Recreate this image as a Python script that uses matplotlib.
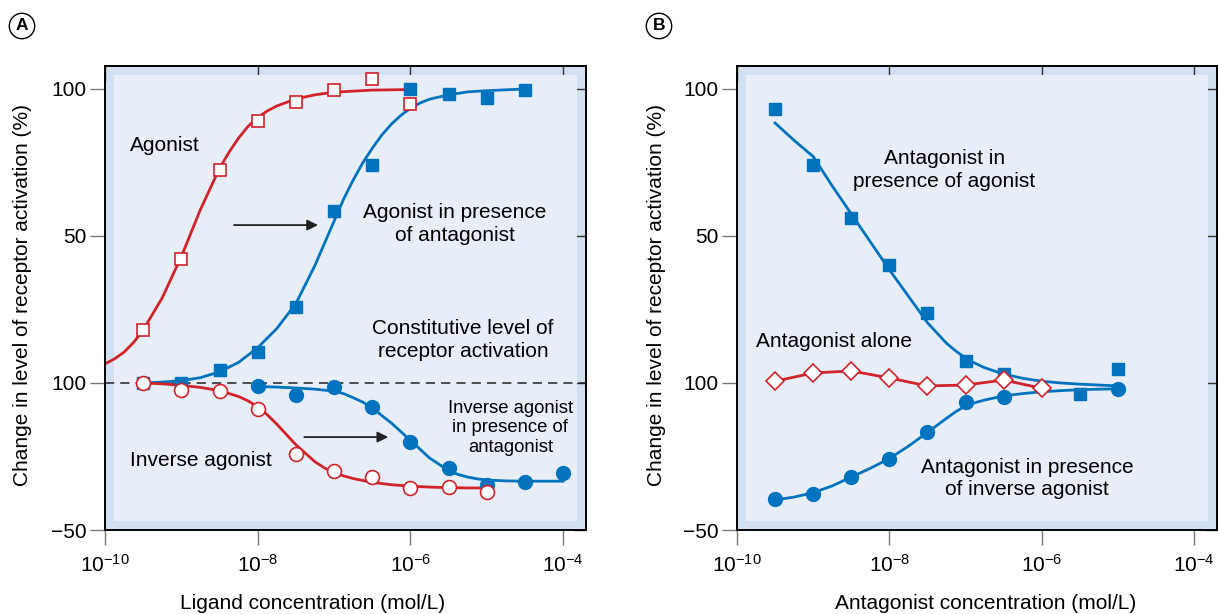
import numpy as np
import matplotlib
matplotlib.use("Agg")
import matplotlib.pyplot as plt
from matplotlib.patches import Rectangle
from matplotlib.ticker import NullLocator, FixedLocator

plt.rcParams['font.family'] = ['Liberation Sans', 'DejaVu Sans']

# ---- panel A data (log10 of ligand concentration, % activation) ----
ag_x = [-9.5, -9, -8.5, -8, -7.5, -7, -6.5, -6]
ag_y = [18, 42, 72.5, 89, 95.5, 99.5, 103.5, 95]
ag_fit_x = [-10, -9.875, -9.75, -9.625, -9.5, -9.25, -9, -8.75, -8.5, -8.375, -8.25, -8.125,
            -8, -7.875, -7.75, -7.5, -7.25, -7, -6.5, -6]
ag_fit_y = [6.5, 8.2, 10.5, 13.8, 18, 29, 43, 59, 73, 78.5, 83.3, 87.3,
            90.3, 92.5, 94.2, 96.6, 98, 98.9, 99.6, 99.8]

agant_x = [-9.5, -9, -8.5, -8, -7.5, -7, -6.5, -6, -5.5, -5, -4.5]
agant_y = [0, 0, 4.5, 10.5, 26, 58.5, 74, 100, 98.3, 97, 99.6]
agant_fit_x = [-9.5, -9.25, -9, -8.75, -8.5, -8.25, -8, -7.75, -7.5, -7.25, -7, -6.875, -6.75,
               -6.625, -6.5, -6.375, -6.25, -6.125, -6, -5.875, -5.75, -5.5, -5.25, -5,
               -4.75, -4.5]
agant_fit_y = [0, 0.3, 0.8, 1.8, 3.8, 7, 12, 18.5, 27, 40, 55, 62.5, 69,
               74.8, 79.8, 84.3, 88, 91, 93.4, 95.2, 96.5, 98, 99, 99.4,
               99.7, 100]

inv_x = [-9.5, -9, -8.5, -8, -7.5, -7, -6.5, -6, -5.5, -5]
inv_y = [0, -2.4, -2.6, -8.8, -24, -30, -32, -35.8, -35.5, -37.2]
inv_fit_x = [-9.5, -9.25, -9, -8.75, -8.5, -8.25, -8.125, -8, -7.875, -7.75, -7.5, -7.25,
             -7.125, -7, -6.875, -6.75, -6.5, -6.25, -6, -5.75, -5.5, -5.25, -5]
inv_fit_y = [0, -0.3, -0.8, -1.5, -2.6, -4.6, -6.1, -8.1, -10.8, -14, -21, -26.8,
             -28.9, -30.5, -31.6, -32.5, -33.8, -34.6, -35.1, -35.4, -35.6, -35.7, -35.7]

invant_x = [-8, -7.5, -7, -6.5, -6, -5.5, -5, -4.5, -4]
invant_y = [-1, -4.1, -1.4, -8.2, -20.1, -29, -34.7, -33.7, -30.6]
invant_fit_x = [-8, -7.75, -7.5, -7.25, -7, -6.875, -6.75, -6.625, -6.5, -6.25, -6, -5.75,
                -5.5, -5.375, -5.25, -5.125, -5, -4.75, -4.5, -4.25, -4]
invant_fit_y = [-1.2, -1.4, -1.7, -2.1, -2.8, -3.6, -5, -6.5, -8.5, -13.6, -19.5, -25.5,
                -29.8, -31.1, -32, -32.6, -33, -33.3, -33.4, -33.4, -33.4]

# ---- panel B data (log10 of antagonist concentration) ----
b_ag_x = [-9.5, -9, -8.5, -8, -7.5, -7, -6.5, -5.5, -5]
b_ag_y = [93.2, 74.1, 56.1, 40.1, 23.8, 7.5, 3.1, -3.7, 4.8]
b_ag_fit_x = [-9.5, -9.25, -9, -8.75, -8.5, -8.25, -8, -7.75, -7.5, -7.25, -7.125, -7,
              -6.875, -6.75, -6.5, -6.25, -6, -5.75, -5.5, -5.25, -5]
b_ag_fit_y = [88.4, 82.5, 77, 67, 57.5, 48, 38.5, 29.5, 20.5, 13.5, 10.8, 8.5,
              6.7, 5.2, 3, 1.6, 0.6, 0, -0.4, -0.7, -1.0]

b_alone_x = [-9.5, -9, -8.5, -8, -7.5, -7, -6.5, -6]
b_alone_y = [0.6, 3.4, 4.1, 1.7, -1.0, -0.7, 1.0, -1.8]

b_inv_x = [-9.5, -9, -8.5, -8, -7.5, -7, -6.5, -5]
b_inv_y = [-39.5, -37.8, -32, -25.9, -16.7, -6.5, -4.8, -2.0]
b_inv_fit_x = [-9.5, -9.25, -9, -8.75, -8.5, -8.25, -8, -7.75, -7.5, -7.25, -7.125, -7,
               -6.875, -6.75, -6.5, -6.25, -6, -5.75, -5.5, -5.25, -5]
b_inv_fit_y = [-39.8, -38.8, -37.3, -35, -32, -29, -25.7, -21.5, -16.8, -12, -9.7, -7.8,
               -6.7, -5.8, -4.4, -3.6, -3.0, -2.6, -2.3, -2.1, -2.0]

yticks = [-50, 0, 50, 100]
ytick_labels = ['\u221250', '100', '50', '100']
xticks = [1e-10, 1e-8, 1e-6, 1e-4]
xtick_labels = [r'$\mathregular{10^{-10}}$', r'$\mathregular{10^{-8}}$',
                r'$\mathregular{10^{-6}}$', r'$\mathregular{10^{-4}}$']

RED = '#d2232a'
BLUE = '#0073be'
OUTER = '#d3e0f2'
INNER = '#e7eef8'
FS = 15


def c(v):
    return 10 ** np.asarray(v, dtype=float)


def setup(ax, xlabel, xlab_pos, ylab_pos):
    ax.set_xscale('log')
    ax.set_xlim(1e-10, 10 ** -3.7)
    ax.set_ylim(-50, 107.8)
    ax.set_facecolor(OUTER)
    ax.add_patch(Rectangle((9 / 481, 9 / 464), 1 - 18 / 481, 1 - 18 / 464,
                           transform=ax.transAxes, fc=INNER, ec='none', zorder=0.5))
    ax.set_xticks(xticks)
    ax.set_xticklabels(xtick_labels)
    ax.xaxis.set_minor_locator(NullLocator())
    ax.set_yticks(yticks)
    ax.set_yticklabels(ytick_labels)
    ax.tick_params(direction='out', length=11, width=1, color='#777777',
                   labelsize=FS, pad=2)
    ax.tick_params(axis='x', pad=6)
    for s in ax.spines.values():
        s.set_linewidth(1.4)
        s.set_color('black')
    ax.spines['top'].set_visible(False)
    ax.spines['right'].set_visible(False)
    # inward ticks on top and right
    top = ax.secondary_xaxis('top')
    top.xaxis.set_major_locator(FixedLocator(xticks))
    top.xaxis.set_minor_locator(NullLocator())
    top.tick_params(direction='in', length=11, width=1, color='#333333', labeltop=False)
    top.spines['top'].set_linewidth(1.4)
    right = ax.secondary_yaxis('right')
    right.yaxis.set_major_locator(FixedLocator(yticks))
    right.tick_params(direction='in', length=9, width=1, color='#333333', labelright=False)
    right.spines['right'].set_linewidth(1.4)
    ax.set_xlabel(xlabel, fontsize=FS)
    ax.xaxis.set_label_coords(xlab_pos, -0.137)
    ax.set_ylabel('Change in level of receptor activation (%)', fontsize=FS)
    ax.yaxis.set_label_coords(ylab_pos, 0.506)


fig = plt.figure(figsize=(12.18, 6.14), dpi=100)
axA = fig.add_axes([105 / 1218, 1 - 530 / 614, 481 / 1218, 464 / 614])
axB = fig.add_axes([737 / 1218, 1 - 530 / 614, 480 / 1218, 464 / 614])

setup(axA, 'Ligand concentration (mol/L)', 0.432, -0.152)
setup(axB, 'Antagonist concentration (mol/L)', 0.517, -0.148)

# ---- panel A ----
axA.axhline(0, color='#222222', lw=1.1, ls=(0, (6, 4)), zorder=1)
axA.plot(c(ag_fit_x), ag_fit_y, color=RED, lw=2, zorder=2)
axA.plot(c(agant_fit_x), agant_fit_y, color=BLUE, lw=2, zorder=2)
axA.plot(c(inv_fit_x), inv_fit_y, color=RED, lw=2, zorder=2)
axA.plot(c(invant_fit_x), invant_fit_y, color=BLUE, lw=2, zorder=2)

axA.plot(c(ag_x), ag_y, 's', ms=8.5, mfc='white', mec=RED, mew=1.2, zorder=3)
axA.plot(c(agant_x), agant_y, 's', ms=8.5, mfc=BLUE, mec=BLUE, zorder=3)
axA.plot(c(invant_x), invant_y, 'o', ms=10, mfc=BLUE, mec=BLUE, zorder=3)
axA.plot(c(inv_x), inv_y, 'o', ms=10, mfc='white', mec=RED, mew=1.2, zorder=4)

axA.text(10 ** -9.67, 80.6, 'Agonist', fontsize=FS, ha='left', va='center')
axA.text(10 ** -5.42, 54, 'Agonist in presence\nof antagonist', fontsize=FS,
         ha='center', va='center', linespacing=1.25)
axA.text(10 ** -5.31, 14.6, 'Constitutive level of\nreceptor activation', fontsize=FS,
         ha='center', va='center', linespacing=1.25)
axA.text(10 ** -4.69, -15.3, 'Inverse agonist\nin presence of\nantagonist', fontsize=13.3,
         ha='center', va='center', linespacing=1.2)
axA.text(10 ** -9.67, -26.2, 'Inverse agonist', fontsize=FS, ha='left', va='center')

arrow = dict(arrowstyle='-|>', color='#222222', lw=1.3, mutation_scale=16, shrinkA=0, shrinkB=0)
axA.annotate('', xy=(10 ** -7.21, 53.7), xytext=(10 ** -8.31, 53.7), arrowprops=arrow)
axA.annotate('', xy=(10 ** -6.29, -18.4), xytext=(10 ** -7.39, -18.4), arrowprops=arrow)

# ---- panel B ----
axB.plot(c(b_ag_fit_x), b_ag_fit_y, color=BLUE, lw=2, zorder=2)
axB.plot(c(b_inv_fit_x), b_inv_fit_y, color=BLUE, lw=2, zorder=2)
axB.plot(c(b_alone_x), b_alone_y, color=RED, lw=2, zorder=2)

axB.plot(c(b_ag_x), b_ag_y, 's', ms=8.5, mfc=BLUE, mec=BLUE, zorder=3)
axB.plot(c(b_inv_x), b_inv_y, 'o', ms=10, mfc=BLUE, mec=BLUE, zorder=3)
axB.plot(c(b_alone_x), b_alone_y, 'D', ms=9, mfc='white', mec=RED, mew=1.2, zorder=4)

axB.text(10 ** -7.28, 72.4, 'Antagonist in\npresence of agonist', fontsize=FS,
         ha='center', va='center', linespacing=1.25)
axB.text(10 ** -8.73, 14, 'Antagonist alone', fontsize=FS, ha='center', va='center')
axB.text(10 ** -6.19, -32.5, 'Antagonist in presence\nof inverse agonist', fontsize=FS,
         ha='center', va='center', linespacing=1.25)

# panel letters
for xf, letter in [(22 / 1218, 'A'), (659 / 1218, 'B')]:
    fig.text(xf, 1 - 26 / 614, letter, fontsize=12.5, fontweight='bold', ha='center', va='center',
             bbox=dict(boxstyle='circle,pad=0.3', fc='white', ec='black', lw=1))

fig.savefig('out.png', dpi=100)
